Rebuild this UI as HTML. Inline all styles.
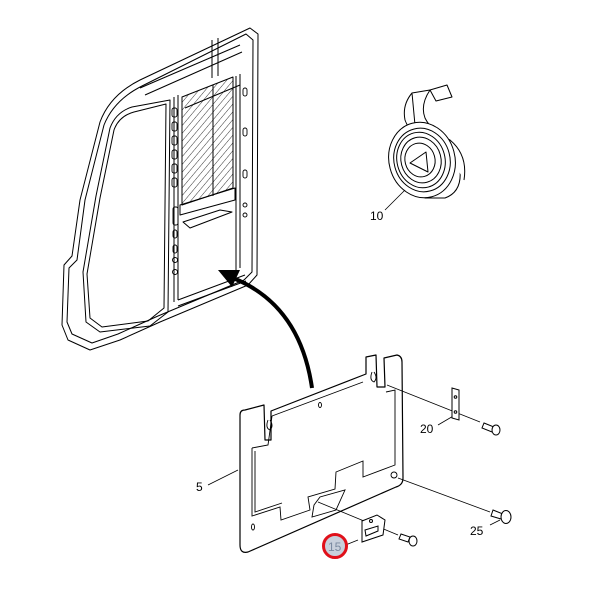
<!DOCTYPE html>
<html><head><style>
html,body{margin:0;padding:0;background:#fff;}
svg{display:block;}
text{font-family:"Liberation Sans",sans-serif;font-size:12px;fill:#000;}
</style></head><body>
<svg width="600" height="613" viewBox="0 0 600 613" xmlns="http://www.w3.org/2000/svg">
<defs>
<pattern id="h" width="5" height="5" patternUnits="userSpaceOnUse" patternTransform="rotate(40)">
<line x1="0" y1="0" x2="0" y2="5" stroke="#000" stroke-width="0.8"/>
</pattern>
</defs>
<g fill="none" stroke="#000" stroke-width="1" stroke-linejoin="round">
<path d="M250,28 L258,34 L257,275 L248,285 L160,322 L120,340 L90,350 L68,340 L62,325 L64,265 L72,256 L80,200 L100,122 Q110,95 140,80 Z" fill="#fff"/>
<path d="M246,34 L253,40 L252,272 L244,280 L158,316 L118,334 L92,343 L72,334 L67,322 L69,268 L77,260 L85,200 L104,125 Q114,100 142,86 Z"/>
<path d="M170,100 L168,312 L150,326 L100,332 L86,322 L83,272 L96,196 L110,128 Q116,112 132,107 Z"/>
<path d="M166,104 L164,308 L148,321 L102,327 L90,318 L87,274 L100,198 L114,130 Q119,116 134,112 Z"/>
<path d="M182,97 L233,77 L233,188 L182,205 Z" fill="url(#h)"/>
<line x1="213" y1="85" x2="213" y2="196"/>
<path d="M180,205 L235,188 L235,200 L180,215 Z"/>
<path d="M183,222 L220,210 L232,212 L190,228 Z"/>
<path d="M178,95 L178,300 M174,97 L174,302"/>
<path d="M236,76 L236,270 M240,74 L240,268"/>
<path d="M178,300 L245,275 M178,306 L246,281"/>
<path d="M185,108 L240,85 M140,88 L240,45 M145,95 L242,52"/>
<path d="M212,40 L212,78 M218,38 L218,76"/>
<g stroke-width="0.9">
<rect x="172" y="108" width="5" height="9" rx="2"/><rect x="172" y="122" width="5" height="9" rx="2"/>
<rect x="172" y="136" width="5" height="9" rx="2"/><rect x="172" y="150" width="5" height="9" rx="2"/>
<rect x="172" y="164" width="5" height="9" rx="2"/><rect x="172" y="178" width="5" height="9" rx="2"/>
<rect x="173" y="207" width="5" height="18" rx="2"/><rect x="173" y="230" width="4" height="8" rx="2"/>
<rect x="173" y="245" width="4" height="8" rx="2"/><circle cx="175" cy="260" r="2.5"/><circle cx="175" cy="272" r="2.5"/>
<rect x="243" y="88" width="4" height="8" rx="2"/><rect x="243" y="128" width="4" height="8" rx="2"/>
<rect x="243" y="170" width="4" height="8" rx="2"/><circle cx="245" cy="205" r="2"/><circle cx="245" cy="215" r="2"/>
</g>
</g>
<path d="M312,388 Q300,305 233,278" fill="none" stroke="#000" stroke-width="4"/>
<polygon points="218,270 240,270 232,287" fill="#000"/>
<!-- roll -->
<g fill="#fff" stroke="#000" stroke-width="1" stroke-linejoin="round">
<path d="M412,93 Q402,105 405,120 Q410,135 432,140 Q455,146 460,170 Q462,192 445,198 L425,198 L415,125 Z"/>
<path d="M412,93 L430,90 Q420,105 425,118 Q432,132 450,140 Q468,155 464,180"/>
<polygon points="430,90 447,85 452,97 436,101"/>
<ellipse cx="422" cy="160" rx="33" ry="38" transform="rotate(-15 422 160)"/>
<ellipse cx="422" cy="160" rx="28" ry="32" transform="rotate(-15 422 160)"/>
<ellipse cx="421" cy="160" rx="24" ry="28" transform="rotate(-15 421 160)"/>
<ellipse cx="421" cy="160" rx="20" ry="23" transform="rotate(-15 421 160)"/>
<ellipse cx="420" cy="160" rx="15" ry="17" transform="rotate(-15 420 160)"/>
<polygon points="410,163 426,152 428,172"/>
</g>
<line x1="385" y1="210" x2="405" y2="190" stroke="#000" stroke-width="0.8"/>
<text x="370" y="220">10</text>
<!-- panel -->
<g fill="#fff" stroke="#000" stroke-width="1.2" stroke-linejoin="round">
<path d="M245,410 L264,405 L265,440 L271,440 L271,411 L366,374 L366,357 L376,355 L377,387 L385,387 L384,358 L397,355 Q402,356 402,362 L403,478 Q403,485 396,487 L248,552 Q240,554 240,545 L240,415 Q240,410 245,410 Z"/>
</g>
<g fill="none" stroke="#000" stroke-width="0.9">
<path d="M272,416 L363,382"/>
<path d="M252,448 L268,445 L272,416 M252,448 L252,516 L280,507 L281,520 L310,510 L308,497 L335,489 L336,472 L363,461 L363,477 L395,465 L395,390 L386,392"/>
<path d="M255,451 L255,512 L282,503"/>
<path d="M314,505 L320,497 L345,490 L336,510 L312,517 Z"/>
<ellipse cx="320" cy="405" rx="1.5" ry="2.5"/>
<ellipse cx="394" cy="475" rx="3" ry="3"/>
<ellipse cx="253" cy="527" rx="1.5" ry="3"/>
<path d="M268,420 q-3,8 2,10 q4,-4 0,-10 M372,372 q-3,8 2,10 q4,-4 0,-10"/>
</g>
<g stroke="#000" stroke-width="0.8" fill="none">
<line x1="387" y1="385" x2="480" y2="422"/>
<line x1="398" y1="478" x2="490" y2="512"/>
<line x1="318" y1="502" x2="398" y2="535"/>
<line x1="208" y1="485" x2="238" y2="470"/>
<line x1="438" y1="425" x2="455" y2="415"/>
<line x1="490" y1="525" x2="500" y2="520"/>
<line x1="343" y1="546" x2="358" y2="540"/>
</g>
<g fill="#fff" stroke="#000" stroke-width="1">
<path d="M452,388 L459,390 L459,420 L452,418 Z"/>
<circle cx="455.5" cy="397" r="1.3"/><circle cx="455.5" cy="412" r="1.3"/>
<path d="M484,423 L494,427 L492,432 L482,428 Z"/>
<ellipse cx="496" cy="430" rx="4" ry="5"/>
<path d="M493,510 L503,514 L501,519 L491,516 Z"/>
<ellipse cx="506" cy="517" rx="5" ry="6.5"/>
<path d="M362,521 L377,515 L385,520 L383,535 L362,542 Z"/>
<path d="M365,530 L378,526 L378,531 L366,536 Z"/>
<circle cx="371" cy="521" r="1.5"/>
<path d="M401,534 L410,537 L408,542 L399,539 Z"/>
<ellipse cx="413" cy="541" rx="4" ry="5"/>
</g>
<text x="196" y="491">5</text>
<text x="420" y="433">20</text>
<text x="470" y="535">25</text>
<circle cx="335" cy="546" r="11.5" fill="#c8d0dc" stroke="#e0101a" stroke-width="3"/>
<text x="328" y="551" style="fill:#7a8aa0">15</text>
</svg>
</body></html>
